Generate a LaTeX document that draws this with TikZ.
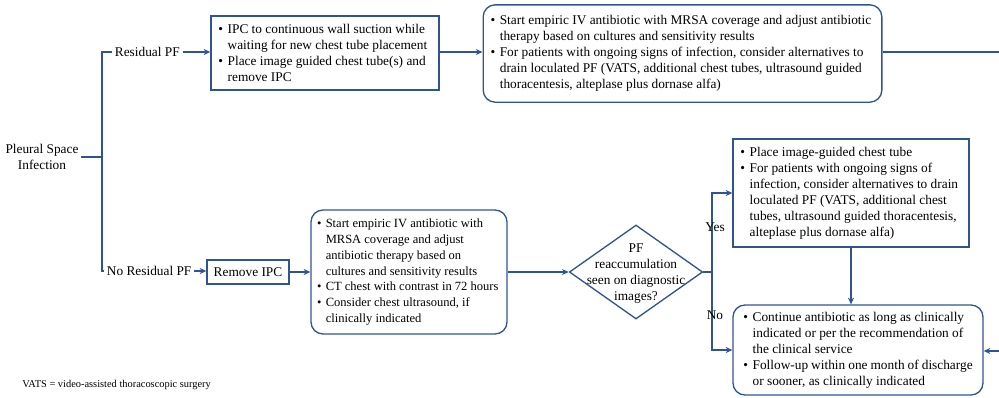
\documentclass[tikz,border=0pt]{standalone}
\usepackage{fontspec}
\setmainfont{Liberation Serif}
\usetikzlibrary{arrows.meta,shapes.geometric}
\definecolor{flowblue}{RGB}{47,84,150}
\newcommand{\bitem}{\par\noindent\hangindent=0.7em\hangafter=1\makebox[0.7em][l]{\textbullet}}
\newcommand{\blist}[2]{\parbox{#1}{\raggedright\hyphenpenalty=10000\exhyphenpenalty=10000 #2}}
\tikzset{
  line/.style={draw=flowblue, line width=1pt},
  arr/.style={line, -{Stealth[length=5pt,width=4.5pt]}},
  box/.style={line, rectangle, align=left, inner sep=0pt, font=\fontsize{10}{12}\selectfont},
  rbox/.style={box, rounded corners=9pt},
  lbl/.style={inner sep=2pt, font=\fontsize{10}{12}\selectfont}
}
\begin{document}
\begin{tikzpicture}[x=0.75pt, y=-0.75pt]
    \useasboundingbox (0,0) rectangle (999,397);

    % Start and split
    \node[lbl, align=center] (infect) at (42,157) {Pleural Space\\Infection};
    \coordinate (split) at (102,157);
    \node[lbl, anchor=west] (resid) at (112,52) {Residual PF};
    \node[lbl, anchor=west] (nores) at (104,271) {No Residual PF};
    \draw[line] (infect.east) -- (split);
    \draw[line] (resid.west) -| (split) |- (nores.west);

    % Residual PF branch
    \node[box, minimum width=171pt, minimum height=55.5pt] (tube) at (325,53) {%
      \blist{160pt}{\bitem IPC to continuous wall suction while waiting for new chest tube placement
      \bitem Place image guided chest tube(s) and remove IPC}};
    \node[rbox, minimum width=299pt, minimum height=73pt] (abx1) at (682.5,53.5) {%
      \blist{288pt}{\bitem Start empiric IV antibiotic with MRSA coverage and adjust antibiotic therapy based on cultures and sensitivity results
      \bitem For patients with ongoing signs of infection, consider alternatives to drain loculated PF (VATS, additional chest tubes, ultrasound guided thoracentesis, alteplase plus dornase alfa)}};
    \coordinate (rtop) at (999,52);
    \coordinate (rbot) at (999,351);
    \draw[arr] (resid.east) -- (tube.west |- resid.east);
    \draw[arr] (tube.east |- resid.east) -- (abx1.west |- resid.east);
    \draw[line] (abx1.east |- rtop) -- (rtop);

    % No residual PF branch
    \node[box, align=center, minimum width=61.5pt, minimum height=18pt] (remove) at (248,272) {Remove IPC};
    \node[rbox, minimum width=147pt, minimum height=93pt, font=\fontsize{9.4}{11.8}\selectfont] (abx2) at (409,272) {%
      \blist{138pt}{\bitem Start empiric IV antibiotic with\newline MRSA coverage and adjust\newline antibiotic therapy based on\newline cultures and sensitivity results
      \bitem CT chest with contrast in 72 hours
      \bitem Consider chest ultrasound, if\newline clinically indicated}};
    \draw[arr] (nores.east) -- (remove.west |- nores.east);
    \draw[arr] (remove.east) -- (abx2.west |- remove.east);

    % Decision
    \node[line, diamond, minimum width=100pt, minimum height=70.5pt, inner sep=0pt] (reacc) at (636,272) {};
    \node[lbl, align=center, inner sep=0pt] (reacctxt) at (636,274) {PF\\reaccumulation\\seen on diagnostic\\images?};
    \draw[arr] (abx2.east) -- (reacc.west);
    \coordinate (fork) at (712,272);
    \node[box, minimum width=177pt, minimum height=81pt] (yesbox) at (851,193) {%
      \blist{166pt}{\bitem Place image-guided chest tube
      \bitem For patients with ongoing signs of infection, consider alternatives to drain loculated PF (VATS, additional chest tubes, ultrasound guided thoracentesis, alteplase plus dornase alfa)}};
    \node[rbox, minimum width=187.5pt, minimum height=67.5pt] (follow) at (858,350) {%
      \blist{172pt}{\bitem Continue antibiotic as long as clinically indicated or per the recommendation of the clinical service
      \bitem Follow-up within one month of discharge or sooner, as clinically indicated}};
    \draw[line] (reacc.east) -- (fork);
    \draw[arr] (fork) |- (yesbox.west);
    \draw[arr] (fork) |- (follow.west);
    \node[lbl] (yes) at (715,227) {Yes};
    \node[lbl] (no) at (715,315) {No};
    \draw[arr] (yesbox.south) -- (yesbox.south |- follow.north);
    \draw[arr] (rbot) -- (follow.east |- rbot);

    % Note
    \node[anchor=west, inner sep=0pt, font=\fontsize{7.8}{9}\selectfont] (note) at (22,385) {VATS = video-assisted thoracoscopic surgery};
\end{tikzpicture}
\end{document}
